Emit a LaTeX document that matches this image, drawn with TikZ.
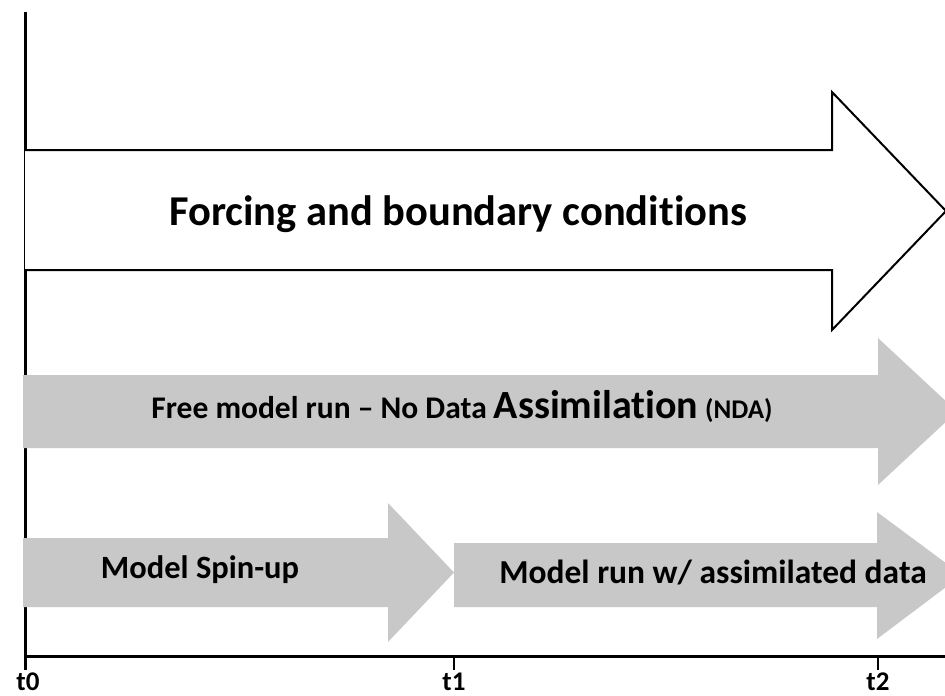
\documentclass[tikz,border=0pt]{standalone}
\usepackage{fontspec}
\setmainfont{Carlito}[Ligatures=NoCommon]
\definecolor{arrowgray}{RGB}{200,200,200}
\begin{document}
\begin{tikzpicture}[x=1pt,y=-1pt,
  axisline/.style={line width=3pt,black},
  tickline/.style={line width=2pt,black},
  whitearrow/.style={draw=black,fill=white,line width=2pt,line join=miter},
  grayarrow/.style={fill=arrowgray,draw=none},
  lbl/.style={font=\bfseries,inner sep=0pt,anchor=base}]
\useasboundingbox (0,0) rectangle (945,696);
\begin{scope}
\clip (0,0) rectangle (945,696);
% axes
\draw[axisline] (25,12) coordinate (ytop) -- (25,670) coordinate (ybot);
\draw[axisline] (24,656) coordinate (xl) -- (945,656) coordinate (xr);
\draw[tickline] (454,656) coordinate (k1) -- (454,670) coordinate (k1b);
\draw[tickline] (878,656) coordinate (k2) -- (878,670) coordinate (k2b);
% forcing arrow
\draw[whitearrow] (25,150) -- (832,150) -- (832,92) -- (946,211) -- (832,330) -- (832,270) -- (25,270);
% free run arrow
\fill[grayarrow] (23,375) -- (878,375) -- (878,338) -- (957,411.5) -- (878,485) -- (878,448) -- (23,448) -- cycle;
% spin-up arrow
\fill[grayarrow] (23,538) -- (388,538) -- (388,503) -- (454,572.5) -- (388,642) -- (388,607) -- (23,607) -- cycle;
% assimilation arrow
\fill[grayarrow] (454,543) -- (877,543) -- (877,512) -- (962,575) -- (877,639) -- (877,607) -- (454,607) -- cycle;
\end{scope}
% labels
\node[lbl,font=\bfseries\fontsize{42.5}{42.5}\selectfont] (forc) at (458,225) {Forcing and boundary conditions};
\node[lbl,font=\bfseries\fontsize{31.5}{31.5}\selectfont] (free) at (462,418) {Free model run – No Data {\fontsize{40}{40}\selectfont Assimilation} {\fontsize{27}{27}\selectfont (NDA)}};
\node[lbl,font=\bfseries\fontsize{32.5}{32.5}\selectfont] (spin) at (200,578) {Model Spin-up};
\node[lbl,font=\bfseries\fontsize{33.5}{33.5}\selectfont] (assim) at (713,583) {Model run w/ assimilated data};
\node[lbl,font=\bfseries\fontsize{27}{27}\selectfont] (t0) at (28,690) {t0};
\node[lbl,font=\bfseries\fontsize{27}{27}\selectfont] (t1) at (454,690) {t1};
\node[lbl,font=\bfseries\fontsize{27}{27}\selectfont] (t2) at (878,690) {t2};
\end{tikzpicture}
\end{document}
